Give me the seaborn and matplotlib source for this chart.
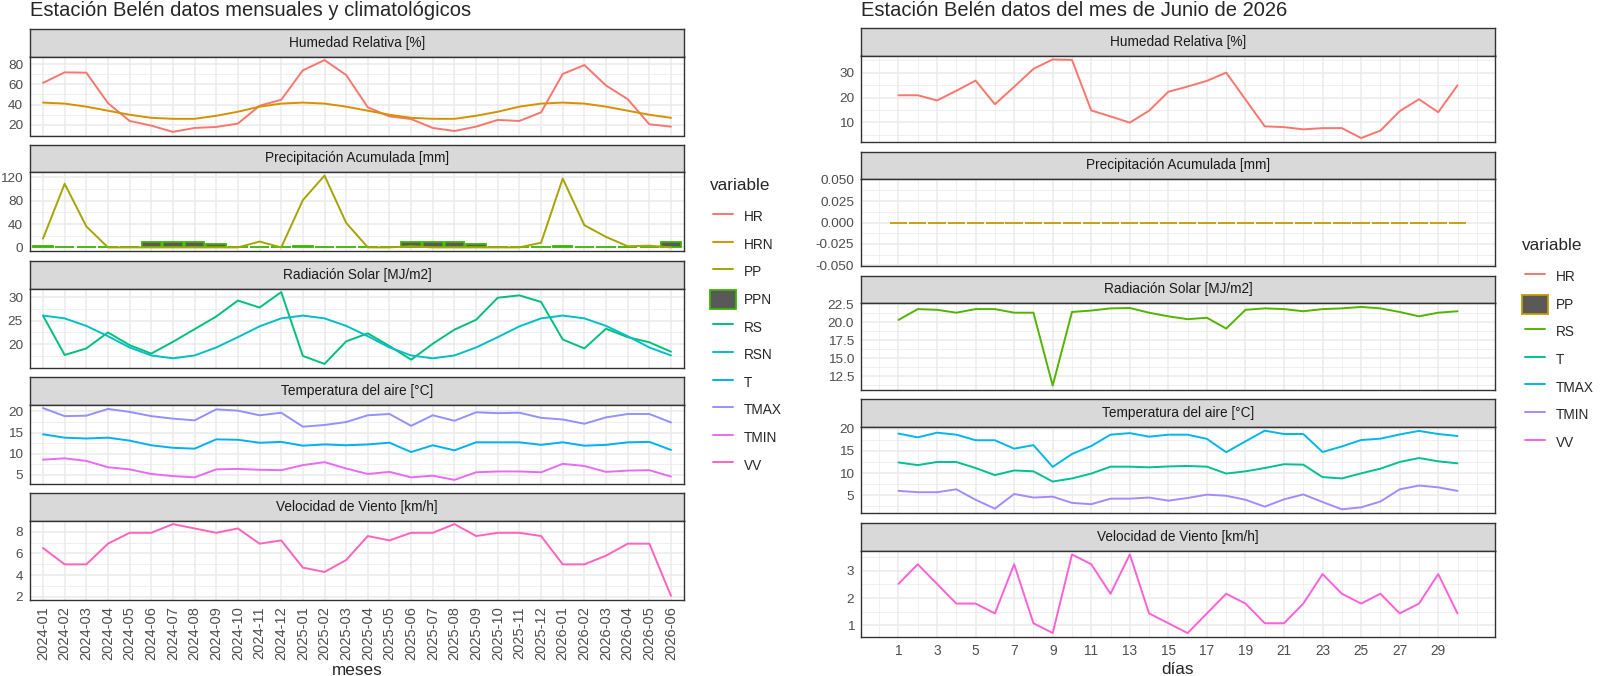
import numpy as np
import pandas as pd
import seaborn as sns
import matplotlib
matplotlib.use('Agg')
import matplotlib.pyplot as plt
from matplotlib.ticker import MultipleLocator, FixedLocator, NullLocator, FormatStrFormatter
from matplotlib.lines import Line2D
from matplotlib.patches import Patch
from matplotlib.legend_handler import HandlerLine2D

# datos mensuales 2024-01 .. 2026-06
meses = list(pd.period_range('2024-01', '2026-06', freq='M').strftime('%Y-%m'))
hr = [61.4, 71.8, 71.5, 41.5, 23.9, 19.3, 13.1, 17.0, 18.0, 21.3, 38.9, 44.8,
      73.8, 83.9, 69.2, 37.3, 28.4, 25.8, 17.0, 14.0, 18.3, 24.9, 23.9, 32.4,
      70.2, 79.0, 58.8, 45.4, 20.6, 18.3]
hrn = [42, 41, 38, 34, 30, 27, 26, 26, 29, 33, 38, 41,
       42, 41, 38, 34, 30, 27, 26, 26, 29, 33, 38, 41,
       42, 41, 38, 34, 30, 27]
pp = [15, 109, 36, 0, 0, 0, 0, 0, 0, 0, 10, 0,
      81, 123, 42, 0, 0, 2, 0, 0, 0, 0, 0, 8,
      118, 38, 18, 2, 3, 0]
ppn = [2, 0, 0, 1, 1.5, 9, 9, 9, 5, 0, 0, 1,
       2, 0, 0, 1, 1.5, 9, 9, 9, 5, 0, 0, 1,
       2, 0, 0, 1, 1.5, 9]
rs = [26.1, 17.7, 19.1, 22.5, 19.8, 18.0, 20.5, 23.2, 25.9, 29.3, 27.8, 31.1,
      17.5, 15.8, 20.6, 22.3, 19.6, 16.7, 20.1, 23.1, 25.2, 29.9, 30.4, 29.0,
      21.0, 19.1, 23.3, 21.5, 20.4, 18.4]
rsn = [26.1, 25.5, 23.9, 21.7, 19.3, 17.6, 17.0, 17.6, 19.3, 21.5, 23.8, 25.5,
       26.1, 25.5, 23.9, 21.7, 19.3, 17.6, 17.0, 17.6, 19.3, 21.5, 23.8, 25.5,
       26.1, 25.5, 23.9, 21.7, 19.3, 17.6]
t = [14.6, 13.8, 13.6, 13.8, 13.1, 12.0, 11.4, 11.2, 13.4, 13.3, 12.6, 12.8,
     11.9, 12.2, 12.0, 12.2, 12.6, 10.4, 12.0, 10.8, 12.7, 12.7, 12.7, 12.1,
     12.7, 11.9, 12.1, 12.7, 12.8, 10.9]
tmax = [20.8, 18.9, 19.0, 20.6, 19.9, 18.9, 18.3, 17.9, 20.5, 20.2, 19.1, 19.7,
        16.4, 16.8, 17.5, 19.1, 19.4, 16.6, 19.1, 17.8, 19.8, 19.6, 19.7, 18.5,
        18.1, 17.1, 18.6, 19.4, 19.4, 17.4]
tmin = [8.6, 8.9, 8.3, 6.8, 6.3, 5.2, 4.7, 4.4, 6.3, 6.4, 6.2, 6.1,
        7.3, 8.0, 6.5, 5.2, 5.7, 4.4, 4.8, 3.8, 5.6, 5.8, 5.8, 5.6,
        7.6, 7.1, 5.7, 6.0, 6.1, 4.6]
vv = [6.5, 5.0, 5.0, 6.9, 7.9, 7.9, 8.7, 8.3, 7.9, 8.3, 6.9, 7.2,
      4.7, 4.3, 5.4, 7.6, 7.2, 7.9, 7.9, 8.7, 7.6, 7.9, 7.9, 7.6,
      5.0, 5.0, 5.8, 6.9, 6.9, 2.1]

# datos diarios junio 2026
dias = list(range(1, 31))
hr_d = [20.9, 20.9, 18.8, 22.7, 26.8, 17.3, 24.3, 31.5, 35.3, 35.1, 14.8, 12.4, 9.9, 14.7, 22.3,
        24.4, 26.7, 30.0, 19.2, 8.4, 8.1, 7.2, 7.7, 7.7, 3.7, 6.7, 14.5, 19.3, 14.1, 24.9]
pp_d = [0.0] * 30
rs_d = [20.3, 21.8, 21.7, 21.3, 21.8, 21.8, 21.3, 21.3, 11.2, 21.4, 21.6, 21.9, 21.95, 21.3, 20.8,
        20.4, 20.6, 19.1, 21.7, 21.9, 21.8, 21.5, 21.8, 21.9, 22.1, 21.9, 21.4, 20.8, 21.3, 21.5]
t_d = [12.4, 11.8, 12.5, 12.5, 11.15, 9.55, 10.6, 10.4, 8.1, 8.8, 9.9, 11.45, 11.45, 11.3, 11.5,
       11.6, 11.45, 9.9, 10.4, 11.15, 12.0, 11.9, 9.1, 8.8, 9.95, 11.0, 12.5, 13.4, 12.65, 12.2]
tmax_d = [18.9, 18.05, 19.1, 18.65, 17.4, 17.4, 15.5, 16.3, 11.4, 14.3, 16.1, 18.65, 19.0, 18.2, 18.65,
          18.65, 17.7, 14.7, 17.15, 19.55, 18.8, 18.8, 14.75, 16.0, 17.45, 17.75, 18.7, 19.5, 18.8, 18.35]
tmin_d = [6.0, 5.7, 5.7, 6.35, 4.0, 2.0, 5.3, 4.5, 4.7, 3.3, 3.0, 4.25, 4.25, 4.5, 3.8,
          4.4, 5.15, 4.9, 4.0, 2.45, 4.1, 5.2, 3.5, 1.85, 2.3, 3.6, 6.35, 7.2, 6.8, 6.0]
vv_d = [2.52, 3.24, 2.52, 1.8, 1.8, 1.44, 3.24, 1.08, 0.72, 3.6, 3.24, 2.16, 3.6, 1.44, 1.08,
        0.72, 1.44, 2.16, 1.8, 1.08, 1.08, 1.8, 2.88, 2.16, 1.8, 2.16, 1.44, 1.8, 2.88, 1.44]

col_m = {'HR': '#F8766D', 'HRN': '#D89000', 'PP': '#A3A500', 'PPN': '#39B600', 'RS': '#00BF7D',
         'RSN': '#00BFC4', 'T': '#00B0F6', 'TMAX': '#9590FF', 'TMIN': '#E76BF3', 'VV': '#FF62BC'}
col_d = {'HR': '#F8766D', 'PP': '#C49A00', 'RS': '#53B400', 'T': '#00C094',
         'TMAX': '#00B6EB', 'TMIN': '#A58AFF', 'VV': '#FB61D7'}

sns.set_style('white')
plt.rcParams['font.family'] = ['Liberation Sans', 'DejaVu Sans']

W, H = 1600, 676
fig = plt.figure(figsize=(16, 6.76), dpi=100)


class ShortLine(HandlerLine2D):
    # linea de la leyenda un poco mas corta que la caja, como en ggplot
    def create_artists(self, legend, orig_handle, xdescent, ydescent, width, height, fontsize, trans):
        return super().create_artists(legend, orig_handle, xdescent - 0.1 * width, ydescent,
                                      0.8 * width, height, fontsize, trans)


def box(x0, y0, w, h):
    return [x0 / W, 1 - (y0 + h) / H, w / W, h / H]


def strip(x0, y0, w, h, label):
    s = fig.add_axes(box(x0, y0, w, h))
    s.set_facecolor('#D9D9D9')
    s.set_xticks([]); s.set_yticks([])
    for sp in s.spines.values():
        sp.set_color('#333333'); sp.set_linewidth(1.0)
    s.text(0.5, 0.5, label, ha='center', va='center', fontsize=9.8, color='#1A1A1A', transform=s.transAxes)


def style(ax, vals, major, minor, fmt):
    lo, hi = min(vals), max(vals)
    if hi == lo:
        ax.set_ylim(lo - 0.0505, hi + 0.0505)
    else:
        pad = (hi - lo) * 0.05
        ax.set_ylim(lo - pad, hi + pad)
    ax.yaxis.set_major_locator(MultipleLocator(major))
    ax.yaxis.set_minor_locator(MultipleLocator(minor))
    ax.yaxis.set_major_formatter(FormatStrFormatter(fmt))
    ax.grid(which='major', color='#EBEBEB', lw=1.1)
    ax.grid(which='minor', color='#EBEBEB', lw=0.55)
    ax.set_axisbelow(True)
    for sp in ax.spines.values():
        sp.set_color('#333333'); sp.set_linewidth(1.0)
    ax.tick_params(which='major', length=3, width=0.8, color='#333333', labelsize=9.7,
                   labelcolor='#4D4D4D', pad=2)
    ax.tick_params(which='minor', length=0)
    ax.set_xlabel(''); ax.set_ylabel('')


def leyenda(colors, box_key, x, y_title, y_top):
    handles = []
    for name in colors:
        if name == box_key:
            handles.append(Patch(facecolor='#595959', edgecolor=colors[name], linewidth=1.3))
        else:
            handles.append(Line2D([], [], color=colors[name], lw=1.4))
    fig.text(x / W, 1 - y_title / H, 'variable', ha='left', va='center', fontsize=12.3)
    fig.legend(handles, list(colors), loc='upper left', bbox_to_anchor=(x / W, 1 - y_top / H),
               frameon=False, fontsize=9.8, handlelength=1.9, handleheight=1.85,
               labelspacing=0.58, handletextpad=0.6, borderpad=0, borderaxespad=0,
               handler_map={Line2D: ShortLine()})


# ---------- izquierda: mensual ----------
idx = np.arange(len(meses))
left = [
    ('Humedad Relativa [%]', [('HR', hr), ('HRN', hrn)], None, 20, 10, '%d'),
    ('Precipitación Acumulada [mm]', [('PP', pp)], ppn, 40, 20, '%d'),
    ('Radiación Solar [MJ/m2]', [('RS', rs), ('RSN', rsn)], None, 5, 2.5, '%d'),
    ('Temperatura del aire [°C]', [('T', t), ('TMAX', tmax), ('TMIN', tmin)], None, 5, 2.5, '%d'),
    ('Velocidad de Viento [km/h]', [('VV', vv)], None, 2, 1, '%d'),
]
lx, lw_ = 30, 654
tops = [29, 144.5, 261, 377, 493]
for k, (lab, series, bars, mj, mn, fmt) in enumerate(left):
    strip(lx, tops[k], lw_, 27.5, lab)
    ax = fig.add_axes(box(lx, tops[k] + 27.5, lw_, 79))
    vals = []
    if bars is not None:
        sns.barplot(x=idx, y=bars, ax=ax, color='#595959', edgecolor=col_m['PPN'], linewidth=1.3,
                    width=0.9, native_scale=True, saturation=1, errorbar=None)
        vals += list(bars)
    for name, v in series:
        sns.lineplot(x=idx, y=v, ax=ax, color=col_m[name], lw=1.4)
        vals += list(v)
    style(ax, vals, mj, mn, fmt)
    ax.set_xlim(-0.6, len(meses) - 0.4)
    ax.xaxis.set_major_locator(FixedLocator(idx))
    ax.xaxis.set_minor_locator(NullLocator())
    if k == len(left) - 1:
        ax.set_xticklabels(meses, rotation=90, fontsize=10.5, color='#4D4D4D')
    else:
        ax.tick_params(axis='x', length=0, labelbottom=False)

fig.text(lx / W, 1 - 10 / H, 'Estación Belén datos mensuales y climatológicos', ha='left', va='center', fontsize=14.5)
fig.text((lx + lw_ / 2) / W, 1 - 675 / H, 'meses', ha='center', va='baseline', fontsize=12.3)
leyenda(col_m, 'PPN', 710, 185, 207)

# ---------- derecha: diario ----------
right = [
    ('Humedad Relativa [%]', [('HR', hr_d)], None, 10, 5, '%d'),
    ('Precipitación Acumulada [mm]', [], pp_d, 0.025, 0.0125, '%.3f'),
    ('Radiación Solar [MJ/m2]', [('RS', rs_d)], None, 2.5, 1.25, '%.1f'),
    ('Temperatura del aire [°C]', [('T', t_d), ('TMAX', tmax_d), ('TMIN', tmin_d)], None, 5, 2.5, '%d'),
    ('Velocidad de Viento [km/h]', [('VV', vv_d)], None, 1, 0.5, '%d'),
]
rx, rw = 861, 634
for k, (lab, series, bars, mj, mn, fmt) in enumerate(right):
    top = 28 + 123.75 * k
    strip(rx, top, rw, 27.5, lab)
    ax = fig.add_axes(box(rx, top + 27.5, rw, 86.5))
    vals = []
    if bars is not None:
        sns.barplot(x=dias, y=bars, ax=ax, color='#595959', edgecolor=col_d['PP'], linewidth=1.3,
                    width=0.9, native_scale=True, saturation=1, errorbar=None)
        vals += list(bars)
    for name, v in series:
        sns.lineplot(x=dias, y=v, ax=ax, color=col_d[name], lw=1.4)
        vals += list(v)
    style(ax, vals, mj, mn, fmt)
    ax.set_xlim(0.55 - 1.495, 30.45 + 1.495)
    ax.xaxis.set_major_locator(FixedLocator(range(1, 30, 2)))
    ax.xaxis.set_minor_locator(FixedLocator(list(range(0, 31, 2)) + [31]))
    if k == len(right) - 1:
        ax.xaxis.set_major_formatter(FormatStrFormatter('%d'))
        ax.tick_params(axis='x', labelsize=9.8)
    else:
        ax.tick_params(axis='x', length=0, labelbottom=False)

fig.text(rx / W, 1 - 10 / H, 'Estación Belén datos del mes de Junio de 2026', ha='left', va='center', fontsize=14.5)
fig.text((rx + rw / 2) / W, 1 - 674 / H, 'días', ha='center', va='baseline', fontsize=12.3)
leyenda(col_d, 'PP', 1522, 245, 267)

fig.savefig('out.png', dpi=100)
